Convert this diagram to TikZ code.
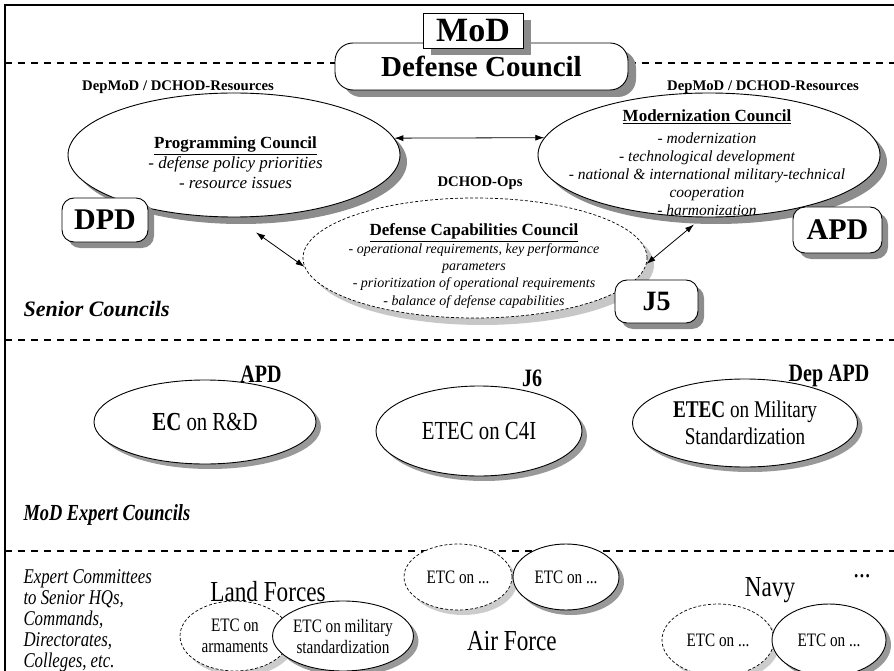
\documentclass[tikz,border=0pt]{standalone}
\usepackage{fontspec}
\setmainfont{Liberation Serif}
\newfontfamily\narrowserif[FakeStretch=0.8]{Liberation Serif}
\usetikzlibrary{shapes.geometric,arrows.meta,shadows}
\newcommand\fsz[2]{\fontsize{#1}{#2}\selectfont}
\begin{document}
\begin{tikzpicture}[x=1pt,y=-1pt,
  darkshadow/.style={drop shadow={shadow xshift=7pt,shadow yshift=-7pt,fill=black!45,opacity=1}},
  lightshadow/.style={drop shadow={shadow xshift=7pt,shadow yshift=-7pt,fill=black!22,opacity=1}},
  smalldark/.style={drop shadow={shadow xshift=5pt,shadow yshift=-5pt,fill=black!40,opacity=1}},
  smalllight/.style={drop shadow={shadow xshift=5pt,shadow yshift=-5pt,fill=black!20,opacity=1}},
  bigell/.style={ellipse,draw=black,line width=0.9pt,fill=white,inner sep=0pt},
  dashell/.style={ellipse,draw=black,line width=0.7pt,dash pattern=on 3pt off 2pt,fill=white,inner sep=0pt},
  roundbox/.style={draw=black,line width=0.9pt,fill=white,rounded corners=12pt,inner sep=0pt,
     drop shadow={shadow xshift=6pt,shadow yshift=-6pt,fill=black!45,opacity=1}},
  sepline/.style={line width=2pt,dash pattern=on 7pt off 6pt},
  frameline/.style={line width=2.5pt},
  biarrow/.style={{Latex[length=9pt,width=6pt]}-{Latex[length=9pt,width=6pt]},line width=0.8pt},
  lbl/.style={font=\fsz{14.7}{16}\bfseries},
  bigbox/.style={font=\fsz{30}{30}\bfseries},
  midlbl/.style={font=\narrowserif\fsz{25}{25}\bfseries},
  midtxt/.style={align=center,font=\narrowserif\fsz{26}{28}},
  etctxt/.style={align=center,font=\narrowserif\fsz{19}{21}},
  forcetxt/.style={font=\narrowserif\fsz{29}{29}},
  section/.style={anchor=west,font=\fsz{22}{22}\bfseries\itshape}
]
\useasboundingbox (0,0) rectangle (894,671);

% frame and separators
\draw[frameline] (5,671) -- (5,5) -- (894,5);
\draw[sepline] (5,63) -- (894,63);
\draw[sepline] (5,340) -- (894,340);
\draw[sepline] (5,551) -- (894,551);

% MoD / Defense Council
\node[draw=black,line width=0.9pt,fill=white,rounded corners=18pt,minimum width=293pt,minimum height=47pt,inner sep=0pt,
  drop shadow={shadow xshift=8pt,shadow yshift=-7pt,fill=black!45,opacity=1},font=\fsz{29}{29}\bfseries]
  (dc) at (481.5,66.5) {Defense Council};
\node[draw=black,line width=0.9pt,fill=white,minimum width=100pt,minimum height=35pt,inner sep=0pt,
  drop shadow={shadow xshift=8pt,shadow yshift=-7pt,fill=black!45,opacity=1},font=\fsz{34}{34}\bfseries]
  (mod) at (473,30.5) {MoD};

% labels above councils
\node[lbl] (depl) at (178,87) {DepMoD / DCHOD-Resources};
\node[lbl] (depr) at (763,87) {DepMoD / DCHOD-Resources};
\node[lbl] (ops) at (480,183) {DCHOD-Ops};

% councils
\node[dashell,lightshadow,minimum width=344pt,minimum height=120pt] (dcc) at (475,258) {};
\node[bigell,darkshadow,minimum width=332pt,minimum height=124pt] (pc) at (234,155) {};
\node[bigell,darkshadow,minimum width=342pt,minimum height=124pt] (mc) at (709,155) {};

\node[align=center,font=\fsz{17}{20}\itshape] (pctext) at (235.5,163) {%
  \underline{\textbf{\upshape Programming Council}}\\
  - defense policy priorities\\
  - resource issues};
\node[align=center,font=\fsz{15.5}{18}\itshape] (mctext) at (707,162.5) {%
  {\fsz{17}{18}\underline{\textbf{\upshape Modernization Council}}}\\[4pt]
  - modernization\\
  - technological development\\
  - national \& international military-technical\\
  cooperation\\
  - harmonization};
\node[align=center,font=\fsz{14}{17.3}\itshape] (dcctext) at (474,266) {%
  {\fsz{17}{17.3}\underline{\textbf{\upshape Defense Capabilities Council}}}\\
  - operational requirements, key performance\\
  parameters\\
  - prioritization of operational requirements\\
  - balance of defense capabilities};

% boxes
\node[roundbox,bigbox,minimum width=86pt,minimum height=44pt] (dpd) at (105,220) {DPD};
\node[roundbox,bigbox,minimum width=89pt,minimum height=46pt] (apd) at (837.5,230) {APD};
\node[roundbox,bigbox,font=\fsz{28}{28}\bfseries,minimum width=83pt,minimum height=43pt] (j5) at (656.5,301.5) {J5};

% arrows
\draw[biarrow] (pc.6) -- (mc.174);
\draw[biarrow] ([xshift=22pt,yshift=-15pt]pc.south) -- (dcc.183);
\draw[biarrow] (dcc.358) -- ([xshift=-15pt,yshift=-7pt]mc.south);

\node[section] (senior) at (20,309) {Senior Councils};

% MoD expert councils
\node[midlbl] (apd2) at (261,374) {APD};
\node[midlbl] (j6) at (532,378) {J6};
\node[midlbl] (depapd) at (829,376) {Dep APD};
\node[bigell,smalldark,minimum width=222pt,minimum height=84pt,midtxt] (ec) at (205,422) {\textbf{EC} on R\&D};
\node[bigell,smalldark,minimum width=206pt,minimum height=90pt,midtxt] (etec1) at (479,431) {ETEC on C4I};
\node[bigell,smalldark,minimum width=225pt,minimum height=88pt,midtxt,font=\narrowserif\fsz{24}{27}] (etec2) at (745,423) {\textbf{ETEC} on Military\\Standardization};
\node[section,font=\narrowserif\fsz{23}{23}\bfseries\itshape] (expert) at (20,515) {MoD Expert Councils};

% expert committees
\node[anchor=north west,align=left,font=\narrowserif\fsz{21}{21}\itshape] (ecom) at (20,566) {Expert Committees\\to Senior HQs,\\Commands,\\Directorates,\\Colleges, etc.};
\node[forcetxt] (land) at (268,592) {Land Forces};
\node[dashell,smalllight,minimum width=110pt,minimum height=70pt,etctxt] (lfa) at (235,636) {ETC on\\armaments};
\node[bigell,smalldark,minimum width=114pt,minimum height=70pt,etctxt] (lfb) at (343,636) {ETC on military\\standardization};
\node[dashell,smalllight,minimum width=108pt,minimum height=66pt,etctxt] (afa) at (458,577) {ETC on ...};
\node[bigell,smalldark,minimum width=106pt,minimum height=66pt,etctxt] (afb) at (566,577) {ETC on ...};
\node[forcetxt] (air) at (512,641) {Air Force};
\node[forcetxt] (navy) at (770,590) {Navy};
\node[forcetxt] (dots) at (862,576) {...};
\node[dashell,smalllight,minimum width=112pt,minimum height=72pt,etctxt] (nva) at (718,640) {ETC on ...};
\node[bigell,smalldark,minimum width=114pt,minimum height=72pt,etctxt] (nvb) at (829,640) {ETC on ...};
\end{tikzpicture}
\end{document}
